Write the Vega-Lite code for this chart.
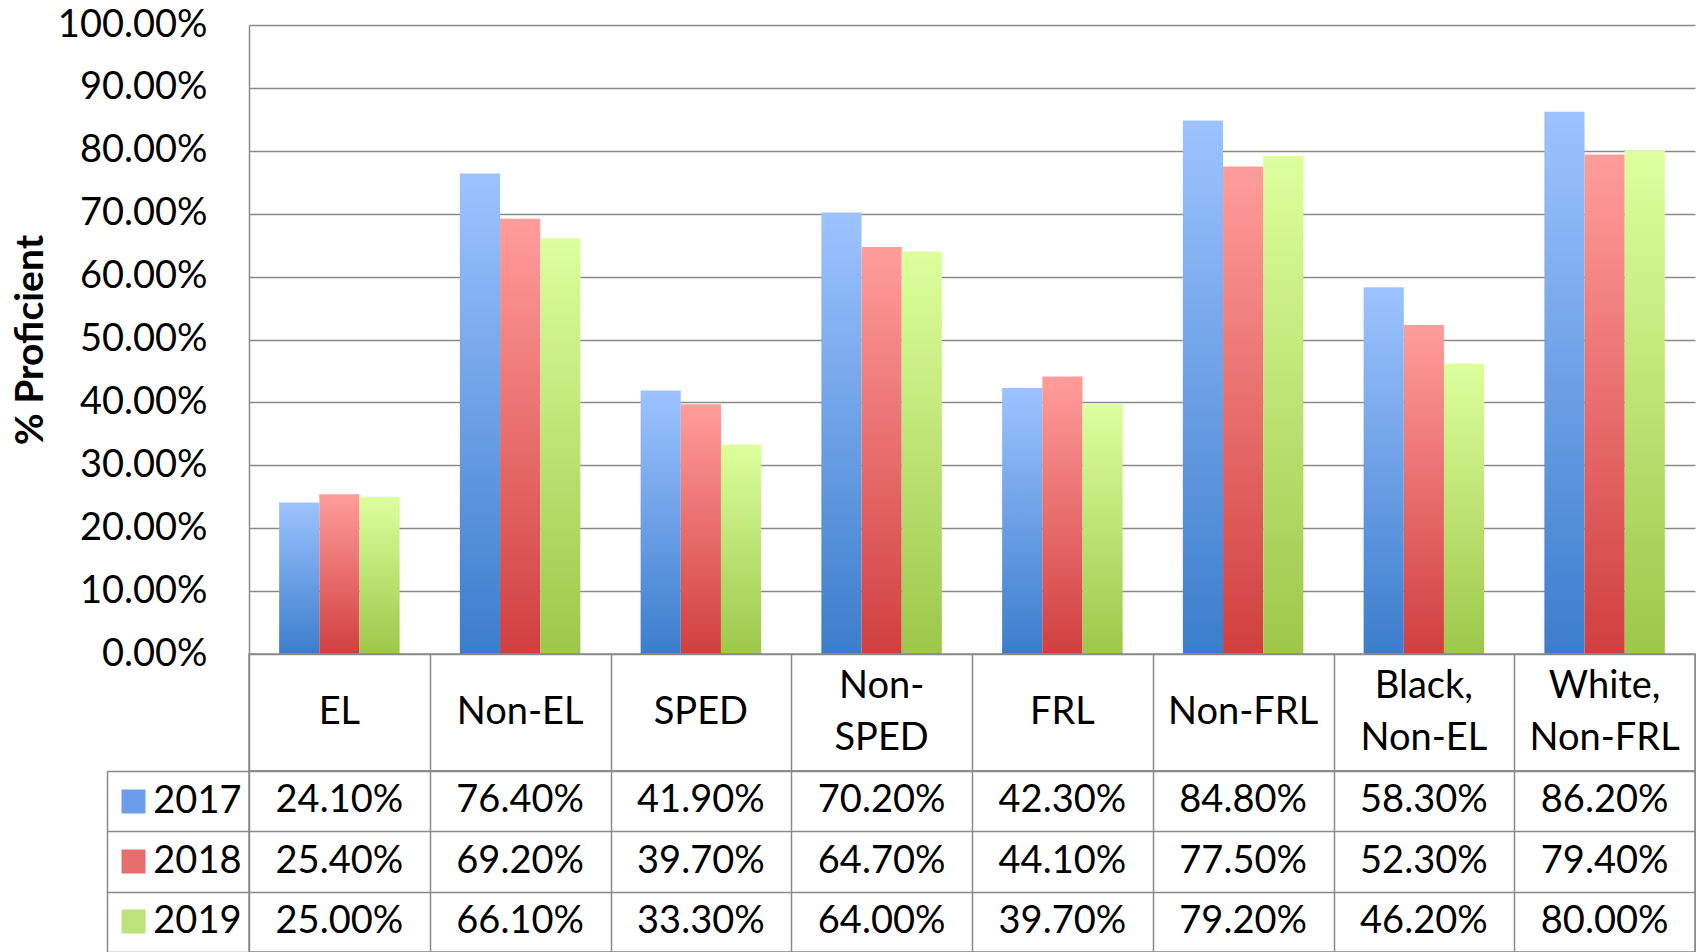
{
  "$schema": "https://vega.github.io/schema/vega-lite/v6.json",
  "padding": {"left": 11, "top": 6, "right": 0, "bottom": 0},
  "spacing": 0,
  "bounds": "flush",
  "config": {"font": "Lato", "view": {"stroke": null}, "concat": {"spacing": 0}},
  "datasets": {
    "scores": [
      {"cat": "EL", "year": "2017", "value": 0.241},
      {"cat": "Non-EL", "year": "2017", "value": 0.764},
      {"cat": "SPED", "year": "2017", "value": 0.419},
      {"cat": "Non-SPED", "year": "2017", "value": 0.702},
      {"cat": "FRL", "year": "2017", "value": 0.423},
      {"cat": "Non-FRL", "year": "2017", "value": 0.848},
      {"cat": "Black, Non-EL", "year": "2017", "value": 0.583},
      {"cat": "White, Non-FRL", "year": "2017", "value": 0.862},
      {"cat": "EL", "year": "2018", "value": 0.254},
      {"cat": "Non-EL", "year": "2018", "value": 0.692},
      {"cat": "SPED", "year": "2018", "value": 0.397},
      {"cat": "Non-SPED", "year": "2018", "value": 0.647},
      {"cat": "FRL", "year": "2018", "value": 0.441},
      {"cat": "Non-FRL", "year": "2018", "value": 0.775},
      {"cat": "Black, Non-EL", "year": "2018", "value": 0.523},
      {"cat": "White, Non-FRL", "year": "2018", "value": 0.794},
      {"cat": "EL", "year": "2019", "value": 0.25},
      {"cat": "Non-EL", "year": "2019", "value": 0.661},
      {"cat": "SPED", "year": "2019", "value": 0.333},
      {"cat": "Non-SPED", "year": "2019", "value": 0.64},
      {"cat": "FRL", "year": "2019", "value": 0.397},
      {"cat": "Non-FRL", "year": "2019", "value": 0.792},
      {"cat": "Black, Non-EL", "year": "2019", "value": 0.462},
      {"cat": "White, Non-FRL", "year": "2019", "value": 0.8}
    ],
    "cats": [
      {"cat": "EL", "label": "EL", "lines": 1},
      {"cat": "Non-EL", "label": "Non-EL", "lines": 1},
      {"cat": "SPED", "label": "SPED", "lines": 1},
      {"cat": "Non-SPED", "label": "Non-\nSPED", "lines": 2},
      {"cat": "FRL", "label": "FRL", "lines": 1},
      {"cat": "Non-FRL", "label": "Non-FRL", "lines": 1},
      {"cat": "Black, Non-EL", "label": "Black,\nNon-EL", "lines": 2},
      {"cat": "White, Non-FRL", "label": "White,\nNon-FRL", "lines": 2}
    ]
  },
  "vconcat": [
    {
      "width": 1446,
      "height": 629,
      "view": {"stroke": null},
      "data": {"name": "scores"},
      "encoding": {
        "x": {
          "field": "cat", "type": "nominal",
          "scale": {"type": "band", "domain": ["EL", "Non-EL", "SPED", "Non-SPED", "FRL", "Non-FRL", "Black, Non-EL", "White, Non-FRL"], "paddingInner": 0.3333, "paddingOuter": 0.1667},
          "axis": null
        },
        "xOffset": {
          "field": "year", "type": "nominal",
          "scale": {"domain": ["2017", "2018", "2019"], "paddingInner": 0, "paddingOuter": 0}
        },
        "y": {
          "field": "value", "type": "quantitative",
          "scale": {"domain": [0, 1], "nice": false},
          "axis": {
            "values": [0, 0.1, 0.2, 0.3, 0.4, 0.5, 0.6, 0.7, 0.8, 0.9, 1],
            "format": ".2%",
            "grid": true, "gridColor": "#8a8a8a", "gridWidth": 1.5,
            "domain": true, "domainColor": "#8a8a8a", "domainWidth": 1.5,
            "ticks": false,
            "labelPadding": 42, "labelFontSize": 38, "labelColor": "#000000", "labelFont": "Lato",
            "title": "% Proficient", "titleFontSize": 39, "titleFontWeight": "bold", "titleColor": "#000000", "titleFont": "Lato", "titlePadding": 7
          }
        }
      },
      "layer": [
        {
          "transform": [{"filter": "datum.year === '2017'"}],
          "mark": {"type": "bar", "fill": {"gradient": "linear", "x1": 0, "y1": 0, "x2": 0, "y2": 1, "stops": [{"offset": 0, "color": "#9DC3FF"}, {"offset": 1, "color": "#3B7DCC"}]}}
        },
        {
          "transform": [{"filter": "datum.year === '2018'"}],
          "mark": {"type": "bar", "fill": {"gradient": "linear", "x1": 0, "y1": 0, "x2": 0, "y2": 1, "stops": [{"offset": 0, "color": "#FF9D9B"}, {"offset": 1, "color": "#D03F3F"}]}}
        },
        {
          "transform": [{"filter": "datum.year === '2019'"}],
          "mark": {"type": "bar", "fill": {"gradient": "linear", "x1": 0, "y1": 0, "x2": 0, "y2": 1, "stops": [{"offset": 0, "color": "#DDFF9D"}, {"offset": 1, "color": "#9DC74A"}]}}
        }
      ]
    },
    {
      "width": 1446,
      "height": 117,
      "view": {"stroke": "#8a8a8a", "strokeWidth": 1.5},
      "data": {"name": "cats"},
      "encoding": {
        "x": {
          "field": "cat", "type": "nominal",
          "scale": {"type": "band", "domain": ["EL", "Non-EL", "SPED", "Non-SPED", "FRL", "Non-FRL", "Black, Non-EL", "White, Non-FRL"], "paddingInner": 0, "paddingOuter": 0},
          "axis": {"orient": "bottom", "title": null, "labels": false, "ticks": false, "domain": false, "grid": true, "tickBand": "extent", "gridColor": "#8a8a8a", "gridWidth": 1.5}
        },
        "text": {"field": "label"}
      },
      "layer": [
        {
          "transform": [{"filter": "datum.lines === 1"}],
          "mark": {"type": "text", "fontSize": 38, "font": "Lato", "color": "#000000", "baseline": "middle"}
        },
        {
          "transform": [{"filter": "datum.lines === 2"}],
          "mark": {"type": "text", "fontSize": 38, "font": "Lato", "color": "#000000", "baseline": "middle", "lineBreak": "\n", "lineHeight": 52, "dy": -26}
        }
      ]
    },
    {
      "width": 1446,
      "height": 181,
      "view": {"stroke": "#8a8a8a", "strokeWidth": 1.5},
      "data": {"name": "scores"},
      "layer": [
        {
          "mark": {"type": "text", "fontSize": 38, "font": "Lato", "color": "#000000"},
          "encoding": {
            "x": {
              "field": "cat", "type": "nominal",
              "scale": {"type": "band", "domain": ["EL", "Non-EL", "SPED", "Non-SPED", "FRL", "Non-FRL", "Black, Non-EL", "White, Non-FRL"], "paddingInner": 0, "paddingOuter": 0},
              "axis": {"orient": "bottom", "title": null, "labels": false, "ticks": false, "domain": false, "grid": true, "tickBand": "extent", "gridColor": "#8a8a8a", "gridWidth": 1.5}
            },
            "y": {
              "field": "year", "type": "nominal",
              "scale": {"type": "band", "domain": ["2017", "2018", "2019"], "paddingInner": 0, "paddingOuter": 0},
              "axis": {
                "orient": "left", "title": null, "domain": false,
                "ticks": true, "tickBand": "extent", "tickSize": 142, "tickColor": "#8a8a8a", "tickWidth": 1.5,
                "grid": true, "gridColor": "#8a8a8a", "gridWidth": 1.5,
                "labelPadding": -134, "labelFontSize": 38, "labelFont": "Lato", "labelColor": "#000000"
              }
            },
            "text": {"field": "value", "type": "quantitative", "format": ".2%"}
          }
        },
        {
          "mark": {"type": "text", "opacity": 0},
          "encoding": {
            "y": {
              "field": "year", "type": "nominal",
              "axis": {
                "orient": "left", "offset": 104, "title": null, "domain": false, "grid": false, "labels": false,
                "ticks": true, "tickSize": 24, "tickWidth": 24, "tickCap": "butt",
                "tickColor": {"condition": [{"test": "datum.value === '2017'", "value": "#6A9EEB"}, {"test": "datum.value === '2018'", "value": "#E66E6C"}], "value": "#BCE27A"}
              }
            }
          }
        },
        {
          "mark": {"type": "text", "opacity": 0},
          "encoding": {
            "y": {
              "field": "year", "type": "nominal",
              "axis": {"orient": "left", "offset": 142, "title": null, "domain": true, "domainColor": "#8a8a8a", "domainWidth": 1.5, "ticks": false, "labels": false, "grid": false}
            }
          }
        }
      ],
      "resolve": {"axis": {"y": "independent"}}
    }
  ]
}
